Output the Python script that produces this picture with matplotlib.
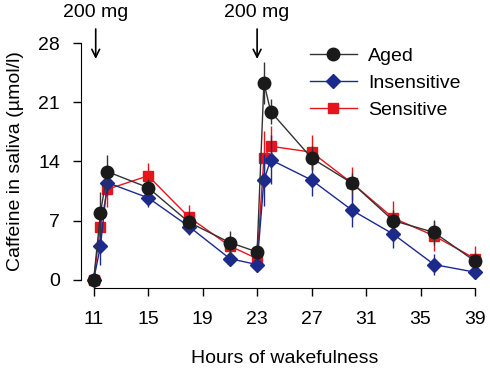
import numpy as np
import matplotlib
matplotlib.use("Agg")
import matplotlib.pyplot as plt
from matplotlib.lines import Line2D

plt.rcParams['font.family'] = ['Liberation Sans', 'DejaVu Sans']

# Hours of wakefulness at each saliva sample
hours = [11, 11.5, 12, 15, 18, 21, 23, 23.5, 24, 27, 30, 33, 36, 39]

# Caffeine in saliva (umol/l), mean and error
aged = [0, 7.9, 12.8, 10.9, 6.8, 4.4, 3.3, 23.3, 19.9, 14.4, 11.4, 7.0, 5.6, 2.2]
aged_err = [0, 2.5, 2.0, 1.0, 1.2, 1.4, 1.0, 2.5, 1.5, 1.4, 1.2, 1.2, 1.5, 1.0]

insensitive = [0, 4.0, 11.5, 9.7, 6.3, 2.5, 1.8, 11.8, 14.2, 11.8, 8.2, 5.4, 1.8, 0.9]
insensitive_err = [0, 2.2, 1.5, 1.1, 1.0, 0.8, 0.6, 3.1, 2.9, 1.9, 2.0, 1.6, 1.2, 0.8]

sensitive = [0, 6.3, 10.7, 12.3, 7.4, 4.0, 2.5, 14.4, 15.8, 15.1, 11.4, 7.3, 5.2, 2.5]
sensitive_err = [0, 2.0, 2.1, 1.5, 1.4, 1.0, 0.8, 3.2, 2.4, 2.0, 2.0, 2.0, 1.8, 1.5]

dose_hours = [11.15, 23]
dose_labels = ["200 mg", "200 mg"]

xticks = [11, 15, 19, 23, 27, 31, 35, 39]
yticks = [0, 7, 14, 21, 28]

fig = plt.figure(figsize=(4.9, 3.68), dpi=100)
ax = fig.add_axes([0.1653, 0.2165, 0.83, 0.6895])

black = '#1a1a1a'
blue = '#1c2a8c'
red = '#e8141c'
fs = 14

# Sensitive
ax.errorbar(hours, sensitive, yerr=sensitive_err, color=red, ecolor=red,
            elinewidth=1.0, lw=1.0, marker='s', ms=7.5, mec=red, mfc=red,
            capsize=0, zorder=2)
# Insensitive
ax.errorbar(hours, insensitive, yerr=insensitive_err, color=blue, ecolor=blue,
            elinewidth=1.0, lw=1.0, marker='D', ms=7.5, mec=blue, mfc=blue,
            capsize=0, zorder=3)
# Aged
ax.errorbar(hours, aged, yerr=aged_err, color='#333333', ecolor='#333333',
            elinewidth=1.0, lw=1.0, marker='o', ms=9, mec=black, mfc=black,
            capsize=0, zorder=4)

# Dose arrows
for h, lab in zip(dose_hours, dose_labels):
    ax.annotate("", xy=(h, 25.8), xytext=(h, 30.0),
                arrowprops=dict(arrowstyle='->', color='black', lw=1.2,
                                mutation_scale=14),
                annotation_clip=False)
    ax.text(h, 30.6, lab, ha='center', va='bottom', fontsize=fs,
            clip_on=False)

ax.set_xlim(10.07, 39.93)
ax.set_ylim(-1.01, 29.01)
ax.set_xticks(xticks)
ax.set_yticks(yticks)
ax.tick_params(labelsize=fs, length=6, width=1, direction='out')
ax.tick_params(axis='x', pad=10)
ax.tick_params(axis='y', pad=9)

for s in ['top', 'right']:
    ax.spines[s].set_visible(False)
ax.spines['left'].set_bounds(0, 28)
ax.spines['bottom'].set_bounds(11, 39)

ax.set_xlabel("Hours of wakefulness", fontsize=fs, labelpad=16)
ax.set_ylabel("Caffeine in saliva (\u00b5mol/l)", fontsize=fs, labelpad=10)

# legend (line + marker only)
handles = [
    Line2D([], [], color='#333333', lw=1.0, marker='o', ms=9, mfc=black, mec=black),
    Line2D([], [], color=blue, lw=1.0, marker='D', ms=7.5, mfc=blue, mec=blue),
    Line2D([], [], color=red, lw=1.0, marker='s', ms=7.5, mfc=red, mec=red),
]
ax.legend(handles, ["Aged", "Insensitive", "Sensitive"], loc='upper left',
          bbox_to_anchor=(0.52, 1.02), frameon=False, fontsize=fs,
          handlelength=2.4, handletextpad=0.6, labelspacing=0.48)

fig.savefig("out.png", dpi=100)
